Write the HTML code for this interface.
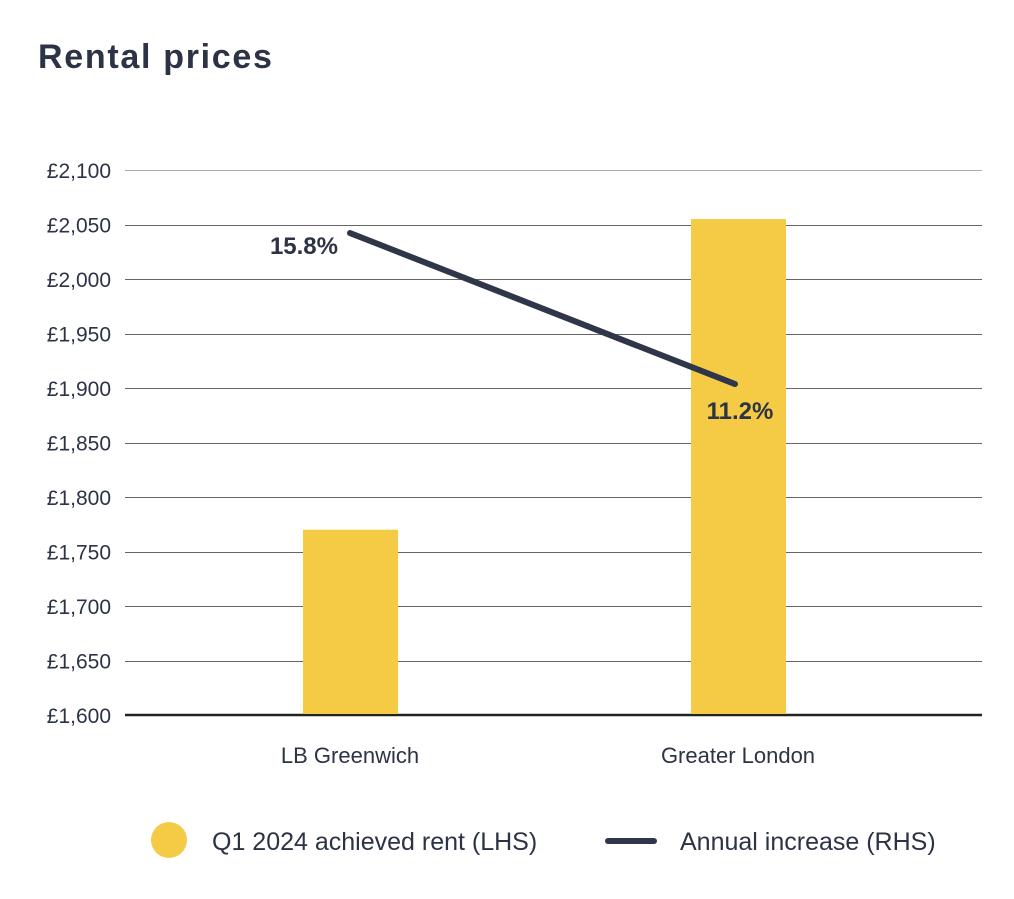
<!DOCTYPE html>
<html><head><meta charset="utf-8"><style>
body{margin:0;background:#fff;width:1014px;height:894px;overflow:hidden;font-family:"Liberation Sans",sans-serif;}
</style></head><body>
<svg width="1014" height="894" viewBox="0 0 1014 894">
<text x="38" y="68" font-size="34" font-weight="bold" fill="#2b3345" letter-spacing="1.7">Rental prices</text>
<g id="grid"></g><g id="bars"></g><g id="line"></g>
<g>
<circle cx="169" cy="840" r="18" fill="#f5cb45"/>
<text x="212" y="850" font-size="25" fill="#2b3345">Q1 2024 achieved rent (LHS)</text>
<line x1="608" y1="841" x2="654" y2="841" stroke="#2f3649" stroke-width="6" stroke-linecap="round"/>
<text x="680" y="850" font-size="25" fill="#2b3345">Annual increase (RHS)</text>
</g>
</svg>
<script>
const categories=["LB Greenwich","Greater London"];
const rentValues=[1770,2055];
const increaseValues=[15.8,11.2];
const increaseLabels=["15.8%","11.2%"];
const yTicks=[1600,1650,1700,1750,1800,1850,1900,1950,2000,2050,2100];
const ns="http://www.w3.org/2000/svg";
const x0=125,x1=982,plotTop=170,plotBottom=715;
const yL=v=>plotBottom-(v-1600)/500*(plotBottom-plotTop);
const rMin=1.12,rMax=17.72;
const yR=v=>plotBottom-(v-rMin)/(rMax-rMin)*(plotBottom-plotTop);
const cx=i=>[350,738][i];
function mk(t,a,p){const e=document.createElementNS(ns,t);for(const k in a)e.setAttribute(k,a[k]);p.appendChild(e);return e;}
const grid=document.getElementById('grid');
yTicks.forEach((v,i)=>{
 const y=yL(v);
 const yc=Math.round(y)+0.5;
 const l=mk('line',{x1:x0,x2:x1,y1:i==0?y:yc,y2:i==0?y:yc,stroke:i==0?'#222':(i==yTicks.length-1?'#aaa':'#666'),'stroke-width':i==0?2.5:1},grid);
 
 
 const t=mk('text',{x:111,y:y+8,'text-anchor':'end','font-size':21,fill:'#2b3345'},grid);
 t.textContent='£'+v.toLocaleString('en-GB');
 
 
});
const bars=document.getElementById('bars');
categories.forEach((c,i)=>{
 const r=mk('rect',{x:cx(i)-47,width:95,y:yL(rentValues[i]),height:plotBottom-1-yL(rentValues[i]),fill:'#f5cb45'},bars);
 
 
 const t=mk('text',{x:cx(i),y:763,'text-anchor':'middle','font-size':22,fill:'#2b3345'},bars);
 t.textContent=c;
 
 
});
const lg=document.getElementById('line');
const pl=mk('polyline',{points:increaseValues.map((v,i)=>(cx(i)+(i==0?0:-3))+','+yR(v)).join(' '),fill:'none',stroke:'#2f3649','stroke-width':6,'stroke-linecap':'round'},lg);


increaseValues.forEach((v,i)=>{
 const t=mk('text',{x:i==0?cx(i)-12:cx(i)+2,y:i==0?yR(v)+21:yR(v)+35,'text-anchor':i==0?'end':'middle','font-size':24,'font-weight':'bold',fill:'#2b3345'},lg);
 t.textContent=increaseLabels[i];
 
 
});
</script>
</body></html>
